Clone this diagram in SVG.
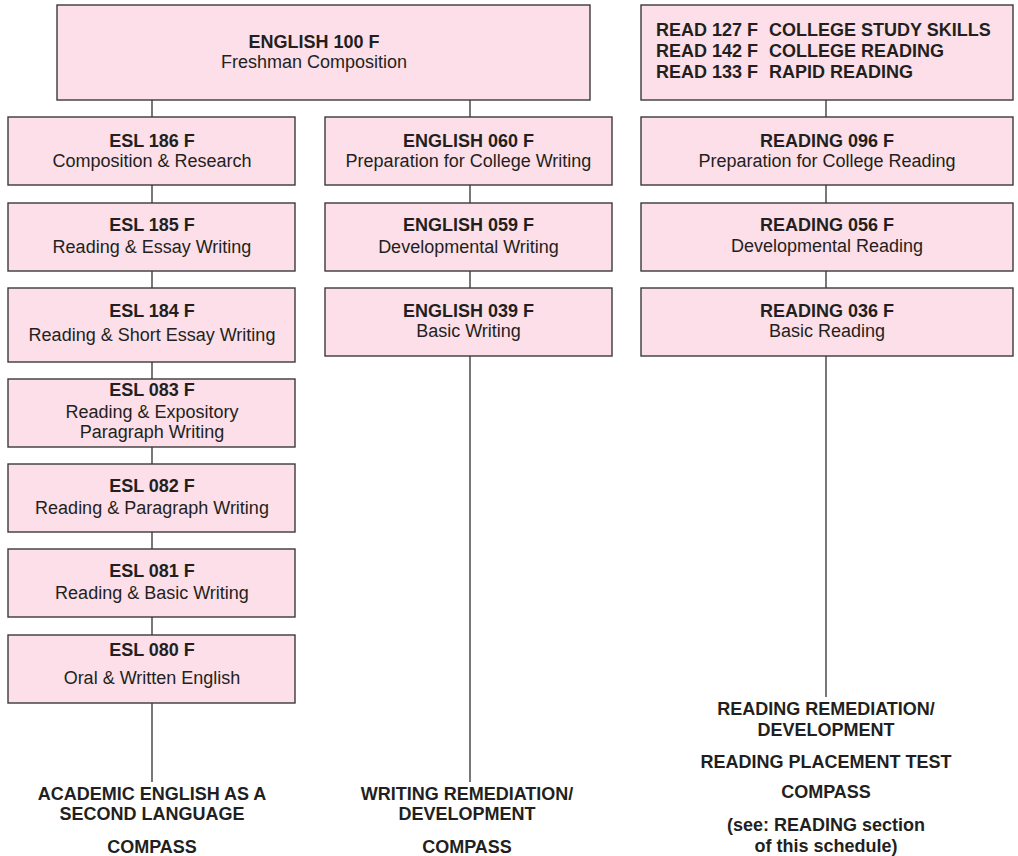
<svg xmlns="http://www.w3.org/2000/svg" width="1018" height="856" viewBox="0 0 1018 856">
<style>
.box{fill:#FCDFE9;stroke:#3a3a3a;stroke-width:1.4}
.t{font-family:"Liberation Sans",Arial,sans-serif;font-size:18px;fill:#231F20;text-anchor:middle}
.b{font-weight:bold}
.l{text-anchor:start}
.c{stroke:#231F20;stroke-width:1.2;fill:none}
</style>
<rect width="1018" height="856" fill="#ffffff"/>
<g id="connectors">
<path class="c" d="M152 100V117M152 185V203M152 271V288M152 362V379M152 447V464M152 532V549M152 617V635M152 703V782"/>
<path class="c" d="M470 100V117M470 185V203M470 271V288M470 356V782"/>
<path class="c" d="M826 100V117M826 185V203M826 271V288M826 356V697"/>
</g>
<g id="eng100"><rect class="box" x="57" y="5" width="533" height="95"/>
<text class="t b" x="314" y="47.7">ENGLISH 100 F</text><text class="t" x="314" y="67.7">Freshman Composition</text></g>
<g id="esl186"><rect class="box" x="8" y="117" width="287" height="68"/>
<text class="t b" x="152" y="146.7">ESL 186 F</text><text class="t" x="152" y="167.3">Composition &amp; Research</text></g>
<g id="esl185"><rect class="box" x="8" y="203" width="287" height="68"/>
<text class="t b" x="152" y="231">ESL 185 F</text><text class="t" x="152" y="252.7">Reading &amp; Essay Writing</text></g>
<g id="esl184"><rect class="box" x="8" y="288" width="287" height="74"/>
<text class="t b" x="152" y="317.3">ESL 184 F</text><text class="t" x="152" y="340.7">Reading &amp; Short Essay Writing</text></g>
<g id="esl083"><rect class="box" x="8" y="379" width="287" height="68"/>
<text class="t b" x="152" y="396.3">ESL 083 F</text><text class="t" x="152" y="417.7">Reading &amp; Expository</text><text class="t" x="152" y="437.7">Paragraph Writing</text></g>
<g id="esl082"><rect class="box" x="8" y="464" width="287" height="68"/>
<text class="t b" x="152" y="491.7">ESL 082 F</text><text class="t" x="152" y="514">Reading &amp; Paragraph Writing</text></g>
<g id="esl081"><rect class="box" x="8" y="549" width="287" height="68"/>
<text class="t b" x="152" y="577.3">ESL 081 F</text><text class="t" x="152" y="599.3">Reading &amp; Basic Writing</text></g>
<g id="esl080"><rect class="box" x="8" y="635" width="287" height="68"/>
<text class="t b" x="152" y="656">ESL 080 F</text><text class="t" x="152" y="684">Oral &amp; Written English</text></g>
<g id="eng060"><rect class="box" x="325" y="117" width="287" height="68"/>
<text class="t b" x="468.5" y="146.7">ENGLISH 060 F</text><text class="t" x="468.5" y="167.3">Preparation for College Writing</text></g>
<g id="eng059"><rect class="box" x="325" y="203" width="287" height="68"/>
<text class="t b" x="468.5" y="231">ENGLISH 059 F</text><text class="t" x="468.5" y="252.5">Developmental Writing</text></g>
<g id="eng039"><rect class="box" x="325" y="288" width="287" height="68"/>
<text class="t b" x="468.5" y="316.7">ENGLISH 039 F</text><text class="t" x="468.5" y="336.7">Basic Writing</text></g>
<g id="read-top"><rect class="box" x="641" y="5" width="372" height="95"/>
<text class="t b l" y="36"><tspan x="656">READ 127 F</tspan><tspan x="769">COLLEGE STUDY SKILLS</tspan></text>
<text class="t b l" y="57"><tspan x="656">READ 142 F</tspan><tspan x="769">COLLEGE READING</tspan></text>
<text class="t b l" y="78"><tspan x="656">READ 133 F</tspan><tspan x="769">RAPID READING</tspan></text></g>
<g id="read096"><rect class="box" x="641" y="117" width="372" height="68"/>
<text class="t b" x="827" y="146.7">READING 096 F</text><text class="t" x="827" y="167.3">Preparation for College Reading</text></g>
<g id="read056"><rect class="box" x="641" y="203" width="372" height="68"/>
<text class="t b" x="827" y="231">READING 056 F</text><text class="t" x="827" y="252.3">Developmental Reading</text></g>
<g id="read036"><rect class="box" x="641" y="288" width="372" height="68"/>
<text class="t b" x="827" y="316.5">READING 036 F</text><text class="t" x="827" y="336.7">Basic Reading</text></g>
<g id="esl-label">
<text class="t b" x="152" y="800">ACADEMIC ENGLISH AS A</text>
<text class="t b" x="152" y="820">SECOND LANGUAGE</text>
<text class="t b" x="152" y="853">COMPASS</text></g>
<g id="writing-label">
<text class="t b" x="467" y="800">WRITING REMEDIATION/</text>
<text class="t b" x="467" y="820">DEVELOPMENT</text>
<text class="t b" x="467" y="853">COMPASS</text></g>
<g id="reading-label">
<text class="t b" x="826" y="715">READING REMEDIATION/</text>
<text class="t b" x="826" y="736">DEVELOPMENT</text>
<text class="t b" x="826" y="768">READING PLACEMENT TEST</text>
<text class="t b" x="826" y="798">COMPASS</text>
<text class="t b" x="826" y="831">(see: READING section</text>
<text class="t b" x="826" y="852">of this schedule)</text></g>
</svg>
